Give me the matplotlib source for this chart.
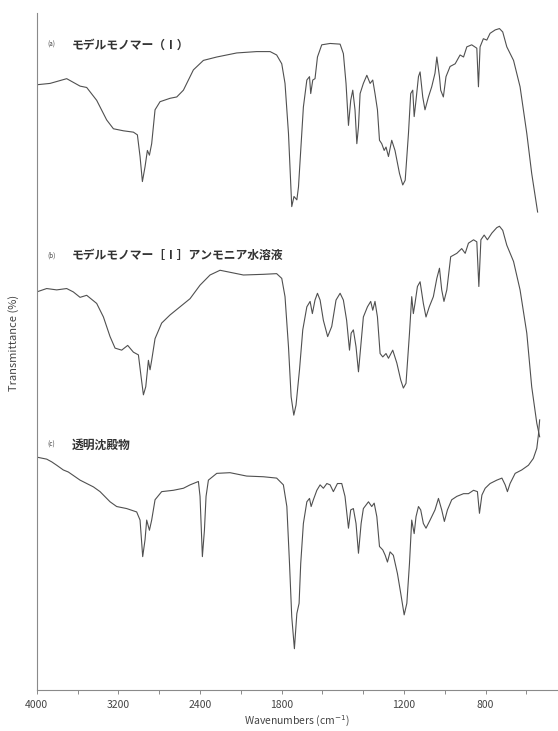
import numpy as np
import matplotlib
matplotlib.use("Agg")
import matplotlib.pyplot as plt

plt.rcParams['font.family'] = ['Noto Sans CJK JP', 'DejaVu Sans']

# ---------------- data (wavenumber cm-1, transmittance, stacked) ----------------
wn_a = [4000, 3869, 3706, 3575, 3510, 3412, 3314, 3248, 3150, 3052, 3013, 2987, 2964, 2938, 2915,
        2895, 2873, 2840, 2791, 2693, 2627, 2562, 2464, 2366, 2235, 2039, 1922, 1856, 1824, 1799,
        1783, 1766, 1750, 1739, 1725, 1717, 1706, 1693, 1676, 1663, 1657, 1647, 1636, 1624, 1603,
        1562, 1513, 1497, 1484, 1472, 1461, 1451, 1440, 1431, 1423, 1415, 1399, 1382, 1366, 1353,
        1342, 1330, 1320, 1309, 1297, 1288, 1276, 1260, 1244, 1222, 1206, 1194, 1178, 1167, 1157,
        1150, 1141, 1129, 1121, 1108, 1097, 1080, 1064, 1048, 1039, 1026, 1020, 1007, 994, 974,
        949, 925, 908, 892, 868, 843, 835, 827, 811, 794, 778, 753, 732, 716, 696, 663, 631, 598,
        574, 545]
t_a = [89.4, 89.6, 90.3, 89.2, 89.0, 87.1, 84.2, 82.9, 82.6, 82.4, 82.0, 78.8, 75.1, 77.3, 79.7,
       79.0, 80.7, 85.7, 86.9, 87.4, 87.6, 88.6, 91.6, 93.0, 93.5, 94.1, 94.3, 94.3, 93.8, 92.5,
       89.6, 82.2, 71.4, 72.9, 72.4, 74.3, 79.7, 86.1, 90.1, 90.6, 88.1, 90.1, 90.3, 93.5, 95.3,
       95.5, 95.4, 94.0, 89.6, 83.4, 87.1, 88.6, 85.7, 80.7, 83.2, 88.1, 89.6, 90.8, 89.6, 90.1,
       88.1, 85.7, 81.2, 80.7, 79.7, 80.2, 78.8, 81.2, 79.7, 76.3, 74.6, 75.3, 82.2, 88.1, 88.6,
       84.7, 87.1, 90.6, 91.3, 87.6, 85.7, 87.6, 89.1, 91.1, 93.5, 90.6, 88.6, 87.6, 90.6, 92.1,
       92.5, 93.8, 93.5, 95.0, 95.3, 94.8, 89.1, 95.0, 96.2, 96.0, 97.0, 97.5, 97.7, 97.2, 95.0,
       93.0, 89.1, 82.2, 76.3, 70.6]

wn_b = [4000, 3902, 3804, 3706, 3641, 3575, 3510, 3412, 3346, 3281, 3232, 3167, 3108, 3052, 3003,
        2977, 2954, 2931, 2905, 2889, 2873, 2840, 2775, 2693, 2595, 2497, 2399, 2301, 2203, 2072,
        1987, 1889, 1824, 1799, 1783, 1766, 1753, 1740, 1729, 1712, 1696, 1676, 1660, 1649, 1636,
        1624, 1611, 1595, 1574, 1554, 1533, 1513, 1497, 1481, 1467, 1459, 1448, 1435, 1423, 1412,
        1399, 1379, 1363, 1353, 1342, 1330, 1317, 1304, 1288, 1276, 1255, 1235, 1216, 1203, 1190,
        1173, 1162, 1154, 1146, 1134, 1121, 1105, 1092, 1076, 1056, 1039, 1026, 1015, 1004, 990,
        971, 941, 917, 900, 884, 859, 843, 833, 823, 807, 791, 769, 745, 732, 716, 696, 663, 631,
        598, 574, 549, 535]
t_b = [58.8, 59.3, 59.1, 59.3, 58.8, 58.0, 58.3, 57.1, 55.1, 52.2, 50.5, 50.2, 50.9, 49.9, 49.5,
       46.3, 43.6, 44.8, 48.7, 47.3, 48.7, 51.9, 54.2, 55.4, 56.6, 57.8, 59.8, 61.3, 62.0, 61.6,
       61.3, 61.4, 61.5, 60.8, 58.1, 50.7, 43.3, 40.6, 42.1, 47.3, 53.2, 56.6, 57.4, 55.6, 57.6,
       58.6, 57.6, 54.6, 52.2, 53.7, 57.6, 58.6, 57.6, 54.6, 50.2, 52.7, 53.2, 50.7, 47.0, 50.7,
       55.1, 56.6, 57.4, 56.1, 57.4, 55.1, 49.7, 49.2, 49.7, 49.0, 50.2, 48.3, 45.8, 44.6, 45.3,
       52.7, 58.1, 55.6, 57.1, 59.6, 60.3, 57.1, 55.1, 56.6, 58.1, 60.8, 62.3, 59.1, 57.4, 59.1,
       64.0, 64.5, 65.2, 64.5, 66.0, 66.5, 66.2, 59.6, 66.5, 67.2, 66.5, 67.5, 68.3, 68.5, 67.9,
       65.7, 63.3, 59.1, 52.7, 44.8, 39.4, 37.4]

wn_c = [4000, 3902, 3853, 3804, 3739, 3690, 3575, 3444, 3379, 3281, 3216, 3118, 3020, 2987, 2961,
        2938, 2922, 2895, 2873, 2840, 2775, 2660, 2562, 2497, 2415, 2399, 2376, 2356, 2340, 2317,
        2235, 2105, 1971, 1889, 1824, 1791, 1774, 1761, 1750, 1737, 1725, 1714, 1706, 1693, 1676,
        1663, 1655, 1644, 1627, 1611, 1595, 1578, 1562, 1546, 1526, 1505, 1489, 1472, 1461, 1448,
        1435, 1423, 1410, 1399, 1374, 1358, 1346, 1333, 1320, 1304, 1292, 1281, 1268, 1252, 1232,
        1216, 1199, 1186, 1173, 1162, 1150, 1141, 1129, 1118, 1105, 1092, 1072, 1048, 1031, 1015,
        1002, 987, 966, 941, 908, 884, 859, 840, 830, 818, 802, 778, 745, 720, 704, 693, 680, 655,
        623, 590, 566, 549, 541, 535]
t_c = [34.4, 34.1, 33.7, 33.2, 32.5, 32.2, 31.0, 30.0, 29.3, 27.8, 27.1, 26.8, 26.3, 25.1, 19.7,
       22.2, 25.1, 23.6, 25.1, 28.1, 29.3, 29.5, 29.8, 30.3, 30.8, 28.6, 19.7, 23.6, 28.6, 31.0,
       32.0, 32.1, 31.6, 31.5, 31.3, 30.3, 27.1, 18.7, 10.8, 6.1, 11.3, 12.8, 18.7, 24.6, 27.8,
       28.3, 27.1, 28.1, 29.5, 30.3, 29.8, 30.5, 30.3, 29.3, 30.5, 30.5, 28.6, 23.9, 26.6, 26.8,
       24.6, 20.2, 24.6, 26.8, 27.8, 27.1, 27.6, 25.6, 21.2, 20.7, 19.9, 18.9, 20.4, 19.9, 17.2,
       14.3, 11.1, 12.8, 18.7, 25.1, 23.1, 25.6, 27.1, 26.6, 24.6, 23.9, 25.1, 26.6, 28.3, 26.6,
       24.9, 26.6, 28.1, 28.6, 29.0, 29.0, 29.5, 29.3, 26.1, 28.8, 29.8, 30.5, 31.0, 31.3, 30.3,
       29.3, 30.5, 32.0, 32.5, 33.2, 34.2, 35.7, 37.7, 39.9]

labels_id = ["(a)", "(b)", "(c)"]
labels_text = ["モデルモノマー（Ⅰ）", "モデルモノマー［Ⅰ］アンモニア水溶液", "透明沈殿物"]
label_y = [95.3, 64.2, 36.2]

tick_values = [4000, 3600, 3200, 2800, 2400, 2000, 1800, 1600, 1400, 1200, 1000, 800, 600]
tick_labels = ["4000", "", "3200", "", "2400", "", "1800", "", "", "1200", "", "800", ""]

# ---------------- scale: 2x expansion below 2000 cm-1 ----------------
def fwd(w):
    w = np.asarray(w, dtype=float)
    return np.where(w >= 2000, w, 2 * w - 2000)

def inv(u):
    u = np.asarray(u, dtype=float)
    return np.where(u >= 2000, u, (u + 2000) / 2)

W, H = 558, 731
fig = plt.figure(figsize=(W / 100, H / 100), dpi=100)
ax = fig.add_axes([36.7 / W, 1 - 690 / H, (557 - 36.7) / W, (690 - 13) / H])
ax.set_xscale('function', functions=(fwd, inv))

line_color = '#505050'
for wn, t in [(wn_a, t_a), (wn_b, t_b), (wn_c, t_c)]:
    ax.plot(wn, t, color=line_color, lw=0.8)

ax.set_xlim(4000, 450)
ax.set_ylim(0, 100)

ax.set_xticks(tick_values)
ax.set_xticklabels(tick_labels)
ax.tick_params(axis='x', direction='out', length=3, width=0.6, colors='#777777',
               labelsize=7.5, labelcolor='#444444', pad=4)
ax.set_yticks([])
for s in ['top', 'right']:
    ax.spines[s].set_visible(False)
for s in ['left', 'bottom']:
    ax.spines[s].set_color('#8a8a8a')
    ax.spines[s].set_linewidth(0.8)

fig.text(297 / W, 1 - 721 / H, 'Wavenumbers (cm$^{-1}$)', fontsize=7.5, color='#444444',
         ha='center', va='center')
fig.text(14 / W, 1 - 343 / H, 'Transmittance (%)', fontsize=8, color='#444444',
         ha='center', va='center', rotation=90)

for lid, txt, y in zip(labels_id, labels_text, label_y):
    ax.text(3900, y, lid, fontsize=4.5, color='#444444', va='center', ha='left')
    ax.text(3655, y, txt, fontsize=8.5, color='#333333', va='center', ha='left',
            fontweight='bold')

fig.savefig('out.png', dpi=100)
